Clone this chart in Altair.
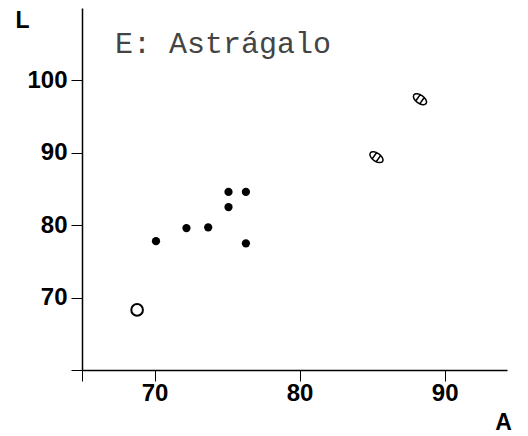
import altair as alt
import pandas as pd

# ---- data ----
filled_x = [70.1, 72.2, 73.7, 75.1, 76.3, 75.1, 76.3]
filled_y = [77.8, 79.6, 79.7, 84.6, 84.6, 82.5, 77.5]
open_x = [68.8]
open_y = [68.3]
hatched_x = [85.3, 88.3]
hatched_y = [89.4, 97.4]
x_ticks = [65, 70, 80, 90]
y_ticks = [60, 70, 80, 90, 100]
title_text = "E: Astrágalo"

df_f = pd.DataFrame({"A": filled_x, "L": filled_y})
df_o = pd.DataFrame({"A": open_x, "L": open_y})
df_h = pd.DataFrame({"A": hatched_x, "L": hatched_y})

FONT = "Liberation Sans"

x_axis = alt.Axis(
    values=x_ticks, labelExpr="datum.value == 65 ? '' : datum.label", format="d",
    tickSize=11, tickColor="black", tickWidth=1, domainColor="black", domainWidth=1.5,
    labelFont=FONT, labelFontWeight="bold", labelFontSize=24, labelColor="black",
    labelPadding=0, labelFlush=False, labelOverlap=False, grid=False,
    title="A", titleX=421, titleY=52, titleFont=FONT, titleFontSize=23,
    titleFontWeight="bold", titleColor="black", titleAlign="center",
    titleBaseline="middle", titleAngle=0,
)
y_axis = alt.Axis(
    values=y_ticks, labelExpr="datum.value == 60 ? '' : datum.label", format="d",
    tickSize=11, tickColor="black", tickWidth=1, domainColor="black", domainWidth=1.5,
    labelFont=FONT, labelFontWeight="bold", labelFontSize=24, labelColor="black",
    labelPadding=4, labelFlush=False, labelOverlap=False, grid=False,
    title="L", titleX=-60, titleY=12, titleFont=FONT, titleFontSize=23,
    titleFontWeight="bold", titleColor="black", titleAlign="center",
    titleBaseline="middle", titleAngle=0,
)
x_scale = alt.Scale(domain=[65, 94.3], nice=False, zero=False)
y_scale = alt.Scale(domain=[60, 110], nice=False, zero=False)


def enc():
    return dict(
        x=alt.X("A:Q", scale=x_scale, axis=x_axis),
        y=alt.Y("L:Q", scale=y_scale, axis=y_axis),
    )


filled = alt.Chart(df_f).mark_circle(size=68, color="black", opacity=1).encode(**enc())
opened = alt.Chart(df_o).mark_point(
    shape="circle", size=135, filled=False, color="black", strokeWidth=2, opacity=1
).encode(**enc())
capsule = ("M -1 0 A 1 0.55 0 1 1 1 0 A 1 0.55 0 1 1 -1 0 Z "
           "M -0.33 -0.52 L -0.33 0.52 M 0.33 -0.52 L 0.33 0.52")
hatched = alt.Chart(df_h).mark_point(
    shape=capsule, size=225, angle=35, filled=False, color="black",
    strokeWidth=1.5, opacity=1
).encode(**enc())
label = alt.Chart(pd.DataFrame({"t": [title_text]})).mark_text(
    font="Liberation Mono", fontSize=30, color="#444", align="left",
    baseline="alphabetic"
).encode(text="t:N", x=alt.value(33), y=alt.value(45))

chart = alt.layer(filled, opened, hatched, label).properties(
    width=425, height=362,
    autosize=alt.AutoSizeParams(type="none"),
    padding={"left": 74, "top": 0, "right": 13, "bottom": 66},
).configure_view(stroke=None)

chart.save("out.html", embed_options={"renderer": "svg", "actions": False})
